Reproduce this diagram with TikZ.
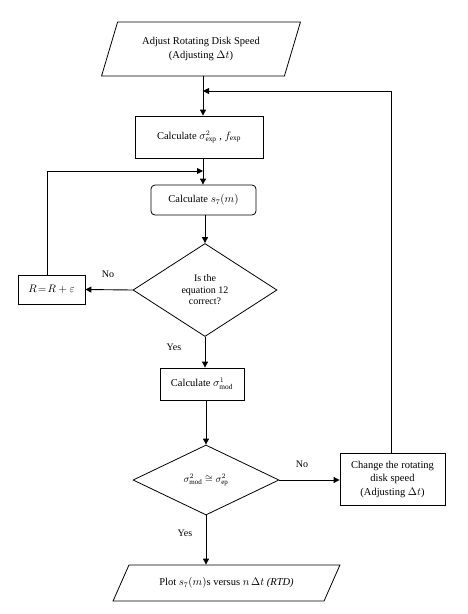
\documentclass[tikz,border=0pt]{standalone}
\usepackage{fontspec}
\setmainfont{Liberation Serif}
\usetikzlibrary{positioning,shapes.geometric,arrows.meta,calc}

\tikzset{
  procbox/.style={draw, line width=0.8pt, fill=white, align=center, inner sep=2pt, font=\fontsize{10.5}{14}\selectfont},
  iobox/.style={procbox, trapezium, trapezium left angle=67, trapezium right angle=113, trapezium stretches=true},
  decision/.style={procbox, diamond, inner sep=0pt, font=\fontsize{10}{11.5}\selectfont},
  flowarr/.style={line width=0.9pt, -{Triangle[length=6pt,width=6pt]}},
  answer/.style={font=\fontsize{10}{12}\selectfont}
}

\begin{document}
\begin{tikzpicture}[x=1pt, y=-1pt]
  \useasboundingbox (0,0) rectangle (467,614);

  % main column
  \node[iobox, minimum width=199pt, minimum height=54pt] (adjust) at (201,49)
    {Adjust Rotating Disk Speed\\(Adjusting $\Delta t$)};
  \node[procbox, minimum width=128pt, minimum height=42pt] (calcexp) at (199,137)
    {Calculate $\sigma^{2}_{\mathrm{exp}}$ , $f_{\mathrm{exp}}$};
  \node[procbox, rounded corners=4pt, minimum width=105pt, minimum height=30pt] (calcs) at (203.5,200)
    {Calculate $s_7(m)$};
  \node[decision, minimum width=144pt, minimum height=93pt] (eq) at (205,290)
    {Is the\\equation 12\\correct?};
  \node[procbox, minimum width=67pt, minimum height=29pt] (rbox) at (51.5,289.5)
    {$R\!=\!R+\varepsilon$};
  \node[procbox, minimum width=84pt, minimum height=32pt] (calcmod) at (202,384)
    {Calculate $\sigma^{1}_{\mathrm{mod}}$};
  \node[decision, minimum width=146pt, minimum height=70pt] (cmp) at (206,480)
    {$\sigma^{2}_{\mathrm{mod}}\cong\sigma^{2}_{\mathrm{ep}}$};
  \node[procbox, minimum width=105pt, minimum height=52pt, font=\fontsize{10.5}{13.5}\selectfont] (change) at (392.5,479)
    {Change the rotating\\disk speed\\(Adjusting $\Delta t$)};
  \node[iobox, minimum width=227pt, minimum height=36pt, trapezium left angle=53, trapezium right angle=127] (plot) at (226.5,583)
    {Plot $s_7(m)$s versus $n\,\Delta t$ \textit{(RTD)}};

  % loop join points
  \coordinate (fb) at (203,91);
  \coordinate (lb) at (203,171);

  % answers
  \node[answer] (no1) at (108,274) {No};
  \node[answer] (yes1) at (174,347) {Yes};
  \node[answer] (no2) at (302,464) {No};
  \node[answer] (yes2) at (185,533) {Yes};

  % connectors
  \draw[flowarr] (adjust.south -| fb) -- (calcexp.north -| fb);
  \draw[flowarr] (calcexp.south -| fb) -- (calcs.north -| fb);
  \draw[flowarr] (calcs.south -| eq.north) -- (eq.north);
  \draw[flowarr] (eq.west) -- (rbox.east);
  \draw[flowarr] (rbox.north -| 47,0) |- (lb);
  \draw[flowarr] (eq.south) -- (eq.south |- calcmod.north);
  \draw[flowarr] (calcmod.south -| cmp.north) -- (cmp.north);
  \draw[flowarr] (cmp.east) -- (change.west |- cmp.east);
  \draw[flowarr] (change.north -| 391,0) |- (fb);
  \draw[flowarr] (cmp.south) -- (cmp.south |- plot.north);
\end{tikzpicture}
\end{document}
